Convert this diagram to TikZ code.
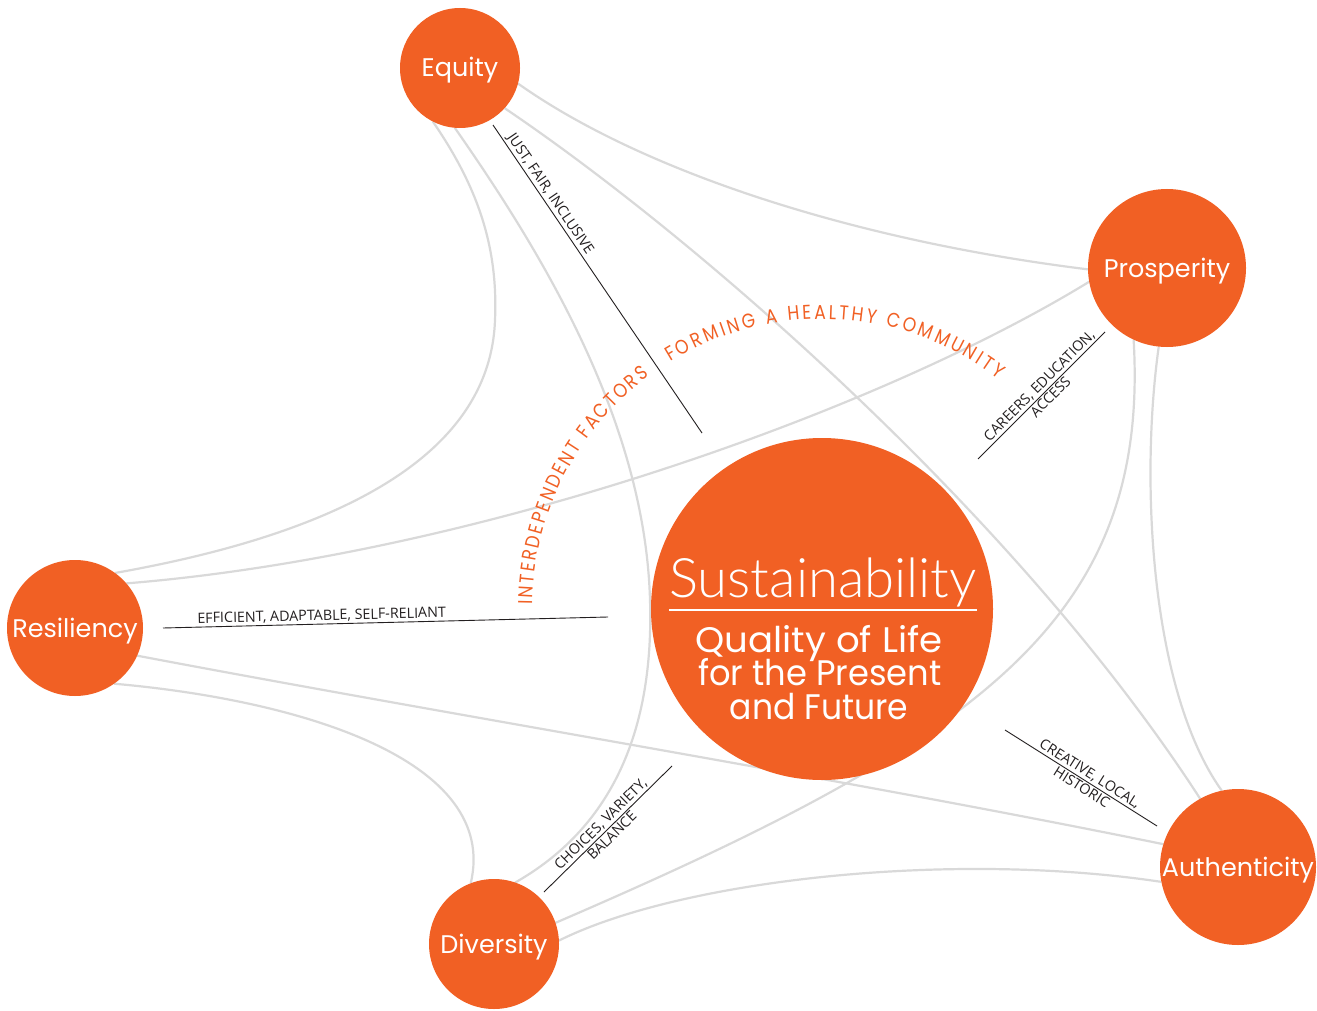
\documentclass[tikz,border=0pt]{standalone}
\usepackage{fontspec}
\usepackage{graphicx}
\usetikzlibrary{decorations.text,backgrounds}
\newfontfamily\popf{Poppins}
\newfontfamily\arcf{Poppins}[FakeStretch=0.86]
\newfontfamily\osf{Open Sans}
\newfontfamily\lightf{Lato Light}
\definecolor{orng}{RGB}{241,96,36}
\definecolor{lgray}{RGB}{217,217,217}
\definecolor{ink}{RGB}{35,31,32}
\begin{document}
\begin{tikzpicture}[x=1pt,y=1pt,
  circ/.style={circle, fill=orng, text=white, inner sep=0pt, outer sep=0pt,
    font=\popf\fontsize{25.5}{30}\selectfont, text height=18pt, text depth=0pt},
  conn/.style={draw=lgray, line width=2.2pt},
  tick/.style={draw=ink, line width=0.9pt},
  lbl/.style={font=\osf\fontsize{14.3}{16}\selectfont, text=ink, inner sep=1.5pt},
  centertxt/.style={text=white, inner sep=0pt, anchor=base},
  arctxt/.style={decorate, decoration={text along path, text align=fit to path, text color=orng}}]
\useasboundingbox (0,0) rectangle (1317,-1011);

% circles
\node[circ, minimum size=120pt] (eq) at (460,-68) {Equity};
\node[circ, minimum size=158pt] (pr) at (1167,-268) {Prosperity};
\node[circ, minimum size=136pt] (re) at (75,-628) {Resiliency};
\node[circ, minimum size=130pt] (dv) at (494,-944) {Diversity};
\node[circ, minimum size=156pt] (au) at (1238,-867) {Authenticity};
\node[circle, fill=orng, minimum size=342pt, inner sep=0pt, outer sep=0pt] (sus) at (822,-609) {};

% central text
\node[centertxt, font=\lightf\fontsize{54.5}{60}\selectfont] (st) at (823,-597) {Sustainability};
\draw[white, line width=2pt] ([yshift=-13pt]st.base west) -- ([yshift=-13pt]st.base east);
\node[centertxt, font=\popf\fontsize{35.5}{34}\selectfont] (q1) at (819,-652) {\scalebox{1.045}[1]{Quality of Life}};
\node[centertxt, font=\popf\fontsize{35.5}{34}\selectfont] (q2) at (820,-685) {\scalebox{0.95}[1]{for the Present}};
\node[centertxt, font=\popf\fontsize{35.5}{34}\selectfont] (q3) at (819,-719) {\scalebox{0.93}[1]{and Future}};

% connectors (behind circles)
\begin{scope}[on background layer]
\fill[white] (0,0) rectangle (1317,-1011);
\draw[conn] (eq.-15) .. controls (640,-170) and (850,-240) .. (pr.181);
\draw[conn] (eq.-42) .. controls (700,-240) and (1020,-520) .. (au.119);
\draw[conn] (eq.-117) .. controls (480,-190) and (498,-250) .. (495,-320)
   .. controls (490,-460) and (330,-535) .. (re.54);
\draw[conn] (eq.-95) .. controls (540,-250) and (645,-420) .. (650,-600)
   .. controls (655,-760) and (590,-840) .. (dv.71);
\draw[conn] (pr.190) .. controls (880,-410) and (477,-555) .. (re.41.5);
\draw[conn] (pr.245) .. controls (1150,-620) and (980,-740) .. (dv.19);
\draw[conn] (pr.264) .. controls (1140,-480) and (1150,-690) .. (au.102);
\draw[conn] (re.-24.7) .. controls (450,-715) and (850,-780) .. (au.163);
\draw[conn] (re.-55) .. controls (300,-700) and (500,-760) .. (dv.111);
\draw[conn] (dv.3.5) .. controls (680,-880) and (950,-850) .. (au.191);
\end{scope}

% label ticks
\coordinate (j1) at (493,-125); \coordinate (j2) at (702,-433);
\coordinate (c1) at (978,-459); \coordinate (c2) at (1105,-332);
\coordinate (f1) at (163,-628); \coordinate (f2) at (608,-617);
\coordinate (h1) at (1005,-730); \coordinate (h2) at (1157,-826);
\coordinate (v1) at (544,-892); \coordinate (v2) at (672,-766);

\draw[tick] (j1) -- (j2) node[lbl, pos=0.24, sloped, above] {JUST, FAIR, INCLUSIVE};
\draw[tick] (c1) -- (c2) node[lbl, pos=0.53, sloped, above] {CAREERS, EDUCATION,}
                         node[lbl, pos=0.53, sloped, below] {ACCESS};
\draw[tick] (f1) -- (f2) node[lbl, pos=0.357, sloped, above] {EFFICIENT, ADAPTABLE, SELF-RELIANT};
\draw[tick] (h1) -- (h2) node[lbl, pos=0.53, sloped, above] {CREATIVE, LOCAL,}
                         node[lbl, pos=0.53, sloped, below] {HISTORIC};
\draw[tick] (v1) -- (v2) node[lbl, pos=0.49, sloped, above] {CHOICES, VARIETY,}
                         node[lbl, pos=0.49, sloped, below] {BALANCE};

% arc text
\path[arctxt, decoration={text={|\arcf\fontsize{20}{22}\selectfont|INTERDEPENDENT FACTORS}}]
  ([shift={(179.2:290)}]sus.center) arc[start angle=179.2, end angle=126.5, radius=290];
\path[arctxt, decoration={text={|\arcf\fontsize{20}{22}\selectfont|FORMING A HEALTHY COMMUNITY}}]
  ([shift={(121.6:290)}]sus.center) arc[start angle=121.6, end angle=52.5, radius=290];
\end{tikzpicture}
\end{document}
